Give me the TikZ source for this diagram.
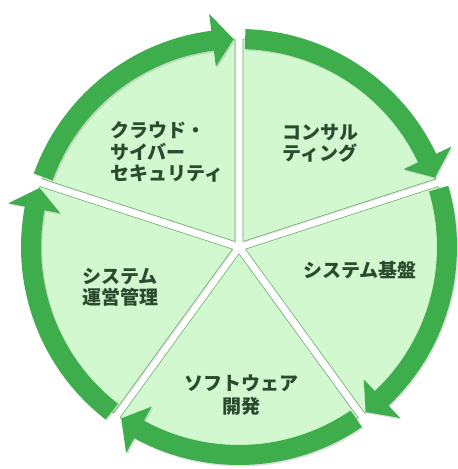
\documentclass[tikz,border=0pt]{standalone}
\usepackage{fontspec}
\newfontfamily\jp{Noto Sans CJK JP}
\usetikzlibrary{shadows}
\definecolor{sect}{HTML}{D2F8D0}
\definecolor{sectline}{HTML}{72A872}
\definecolor{arrowg}{HTML}{3DAE4B}
\definecolor{txt}{HTML}{2B4A2E}
\tikzset{
  sector/.style={fill=sect, draw=sectline, line width=0.6pt,
    drop shadow={shadow xshift=1.2pt, shadow yshift=-1.2pt, opacity=0.22}},
  cyclearrow/.style={fill=arrowg,
    drop shadow={shadow xshift=1.5pt, shadow yshift=-1.5pt, opacity=0.25}},
  label/.style={font=\jp\bfseries\fontsize{19}{21.5}\selectfont, text=txt, inner sep=0pt}
}
\begin{document}
\begin{tikzpicture}[x=1pt,y=1pt]
\useasboundingbox (0,0) rectangle (458,469);
\begin{scope}[shift={(239,222)}]
  % sectors
  \foreach \a in {90,18,-54,-126,162}{
    \pgfmathsetmacro\m{\a-36}
    \pgfmathsetmacro\sa{\a-1.1}
    \pgfmathsetmacro\ea{\a-70.9}
    \path[sector] (\m:6.8) -- (\sa:208) arc[start angle=\sa, end angle=\ea, radius=208] -- cycle;
  }
  % arrows
  \foreach \a in {90,18,-54,-126,162}{
    \pgfmathsetmacro\s{\a-1.7}
    \pgfmathsetmacro\t{\a-72+1.5}
    \pgfmathsetmacro\h{\t+5.8}
    \path[cyclearrow] (\s:218) arc[start angle=\s, end angle=\h, radius=218]
      -- (\h:235) -- (\t:208) -- (\h:182) -- (\h:198)
      arc[start angle=\h, end angle=\s, radius=198] -- cycle;
  }
\end{scope}
% labels
\node[label, anchor=west, align=left] (cloud) at (110,317) {クラウド・\\サイバー\\セキュリティ};
\node[label, anchor=west, align=left] (consult) at (282,325.5) {コンサル\\ティング};
\node[label] (infra) at (360,199) {システム基盤};
\node[label, anchor=west, align=left] (ops) at (82,181.5) {システム\\運営管理};
\node[label, align=center] (soft) at (241,74) {ソフトウェア\\[2pt]開発};
\end{tikzpicture}
\end{document}
